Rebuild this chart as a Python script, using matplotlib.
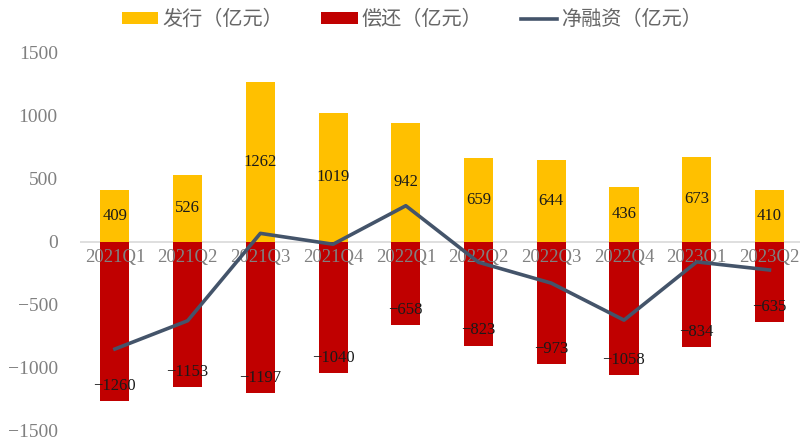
import numpy as np
import matplotlib
matplotlib.use('Agg')
from matplotlib import pyplot as plt

plt.rcParams['font.family'] = ['Liberation Serif', 'Noto Sans CJK SC']
plt.rcParams['axes.unicode_minus'] = True

# 数据
quarters = ['2021Q1', '2021Q2', '2021Q3', '2021Q4', '2022Q1',
            '2022Q2', '2022Q3', '2022Q4', '2023Q1', '2023Q2']
issue = [409, 526, 1262, 1019, 942, 659, 644, 436, 673, 410]
repay = [-1260, -1153, -1197, -1040, -658, -823, -973, -1058, -834, -635]
net = [-851, -627, 65, -21, 284, -164, -329, -622, -161, -225]

x = np.arange(len(quarters))

fig = plt.figure(figsize=(8, 4.41), dpi=100)
ax = fig.add_axes([0.1, 0.0227, 0.9, 0.859])

b1 = ax.bar(x, issue, width=0.4, color='#FFC000', label='发行（亿元）', zorder=2)
b2 = ax.bar(x, repay, width=0.4, color='#C00000', label='偿还（亿元）', zorder=2)
ln, = ax.plot(x, net, color='#44546A', lw=2.6, label='净融资（亿元）', zorder=4)

ax.axhline(0, color='#D9D9D9', lw=1.2, zorder=1)

# 数据标签
for i in range(len(x)):
    ax.text(x[i], issue[i] / 2, str(issue[i]), ha='center', va='center',
            fontsize=12, color='#1a1a1a', zorder=5)
    ax.text(x[i], repay[i] + 120, '−' + str(-repay[i]), ha='center', va='center',
            fontsize=12, color='#1a1a1a', zorder=5)

# 类别标签
for i in range(len(x)):
    ax.text(x[i], -55, quarters[i], ha='center', va='top', fontsize=13.5,
            color='#808080', zorder=3)

ax.set_xlim(-0.48, 9.42)
ax.set_ylim(-1500, 1500)
ax.set_yticks([-1500, -1000, -500, 0, 500, 1000, 1500])
ax.set_yticklabels(['−1500', '−1000', '−500', '0', '500', '1000', '1500'])
ax.set_xticks([])
ax.tick_params(axis='y', length=0, labelsize=14, colors='#808080', pad=16)
for s in ax.spines.values():
    s.set_visible(False)

fig.legend(handles=[b1, b2, ln], loc='upper center', bbox_to_anchor=(0.515, 1.02),
           ncol=3, frameon=False, labelcolor='#666666',
           prop={'family': ['Noto Sans CJK SC'], 'size': 14.5},
           handlelength=1.8, handleheight=0.5, columnspacing=1.9, handletextpad=0.2)

fig.savefig('out.png', dpi=100)
